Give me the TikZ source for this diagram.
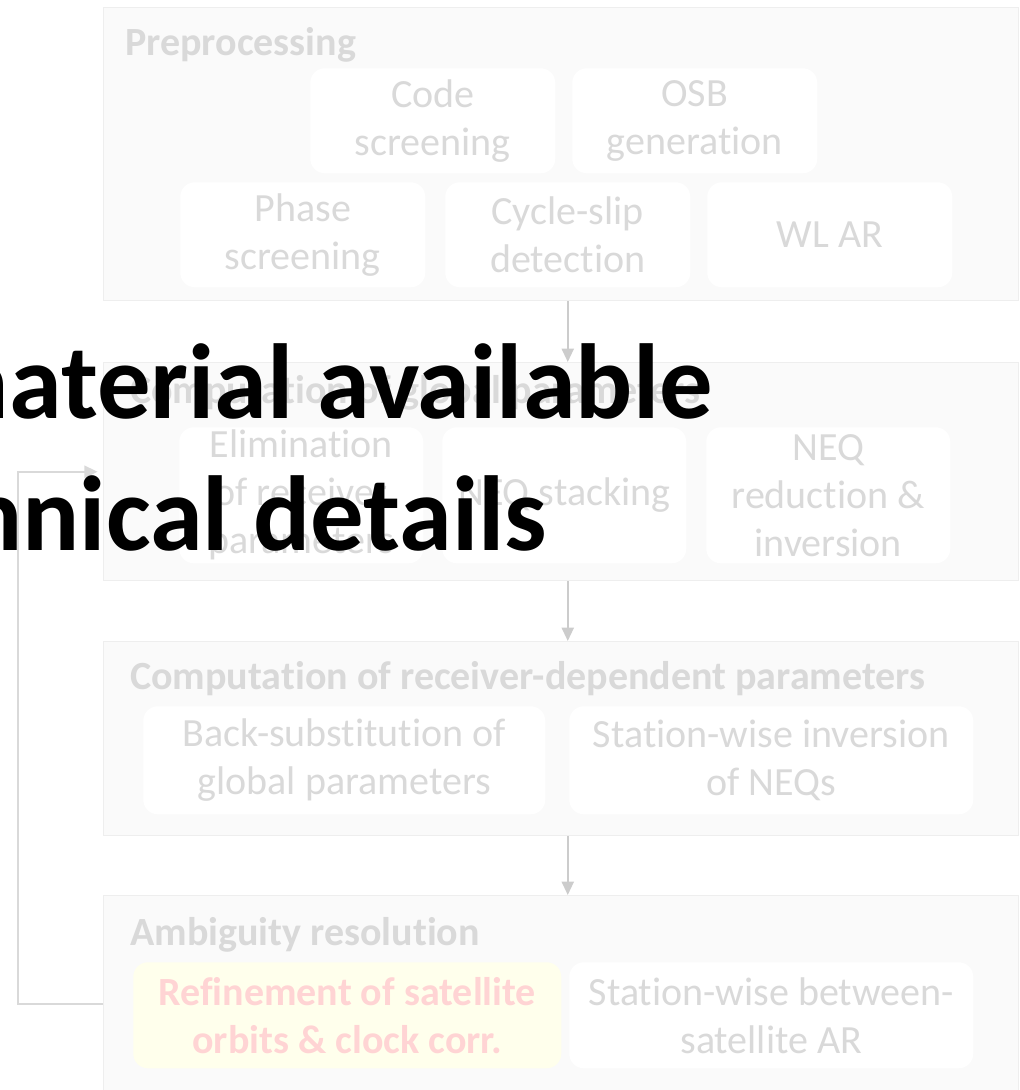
\documentclass[tikz,border=0pt]{standalone}
\usepackage{fontspec}
\setmainfont[RawFeature={-liga;-clig;-calt;-rlig}]{Carlito}
\usetikzlibrary{arrows.meta}
\definecolor{boxgray}{RGB}{250,250,250}
\definecolor{edgegray}{RGB}{238,238,238}
\definecolor{textgray}{RGB}{217,217,217}
\definecolor{arrowgray}{RGB}{204,204,204}
\definecolor{refinefill}{RGB}{255,255,236}
\definecolor{refinered}{RGB}{255,212,212}
\tikzset{
  grp/.style={draw=edgegray, fill=boxgray, line width=1.1pt, anchor=north west, inner sep=0pt},
  task/.style={fill=white, rounded corners=11pt, anchor=north west, inner sep=0pt,
    text=textgray, align=center, font=\fontsize{30}{36}\selectfont},
  hdr/.style={anchor=base west, inner sep=0pt, text=textgray, font=\fontsize{30}{36}\selectfont\bfseries},
  flow/.style={draw=arrowgray, line width=1.5pt, -{Triangle[width=9pt,length=10pt]}},
  note/.style={anchor=base east, inner sep=0pt, font=\fontsize{80}{96}\selectfont\bfseries},
}
\begin{document}
\begin{tikzpicture}[x=0.75pt, y=-0.75pt]
    \useasboundingbox (0,0) rectangle (1020,1090);
    \clip (0,0) rectangle (1020,1090);
    % preprocessing
    \node[grp, minimum width=686.25pt, minimum height=219.75pt] (pre) at (103,7) {};
    \node[hdr] (prehdr) at (125,55) {Preprocessing};
    \node[task, minimum width=183.75pt, minimum height=78.75pt] (codescr) at (310,68) {Code\\screening};
    \node[task, minimum width=183.75pt, minimum height=78.75pt] (osbgen) at (572,68) {OSB\\generation};
    \node[task, minimum width=183.75pt, minimum height=78.75pt] (phasescr) at (180,182) {Phase\\screening};
    \node[task, minimum width=183.75pt, minimum height=78.75pt] (slipdet) at (445,182) {Cycle-slip\\detection};
    \node[task, minimum width=183.75pt, minimum height=78.75pt] (wlar) at (707,182) {WL AR};
    % global parameters
    \node[grp, minimum width=686.25pt, minimum height=163.5pt] (glob) at (103,362) {};
    \node[hdr] (globhdr) at (130,403) {Computation of global parameters};
    \node[task, minimum width=183pt, minimum height=102pt] (elim) at (179,427) {Elimination\\of receiver\\parameters};
    \node[task, minimum width=183pt, minimum height=102pt] (stack) at (442,427) {NEQ stacking};
    \node[task, minimum width=183pt, minimum height=102pt] (reduce) at (706,427) {NEQ\\reduction \&\\inversion};
    % receiver-dependent parameters
    \node[grp, minimum width=686.25pt, minimum height=145.5pt] (recv) at (103,641) {};
    \node[hdr] (recvhdr) at (130,689) {Computation of receiver-dependent parameters};
    \node[task, minimum width=301.5pt, minimum height=81pt] (backsub) at (143,706) {Back-substitution of\\global parameters};
    \node[task, minimum width=303pt, minimum height=81pt] (statinv) at (569,706) {Station-wise inversion\\of NEQs};
    % ambiguity resolution
    \node[grp, minimum width=686.25pt, minimum height=162pt] (amb) at (103,895) {};
    \node[hdr] (ambhdr) at (130,945) {Ambiguity resolution};
    \node[task, fill=refinefill, text=refinered, font=\fontsize{30}{36}\selectfont\bfseries,
      minimum width=321pt, minimum height=79.5pt] (refine) at (133,962) {Refinement of satellite\\orbits \& clock corr.};
    \node[task, minimum width=303pt, minimum height=79.5pt] (statar) at (569,962) {Station-wise between-\\satellite AR};
    % connectors
    \draw[flow] ([xshift=4.9pt]pre.south) -- ([xshift=4.9pt]glob.north);
    \draw[flow] ([xshift=4.9pt]glob.south) -- ([xshift=4.9pt]recv.north);
    \draw[flow] ([xshift=4.9pt]recv.south) -- ([xshift=4.9pt]amb.north);
    \coordinate (loop) at (18,0);
    \draw[flow, draw=textgray, line width=1.8pt, shorten >=4pt] (amb.west) -- (amb.west -| loop) |- (glob.west);
    % overlay
    \node[note] (notea) at (713,418) {material available};
    \node[note] (noteb) at (547,550) {technical details};
\end{tikzpicture}
\end{document}
